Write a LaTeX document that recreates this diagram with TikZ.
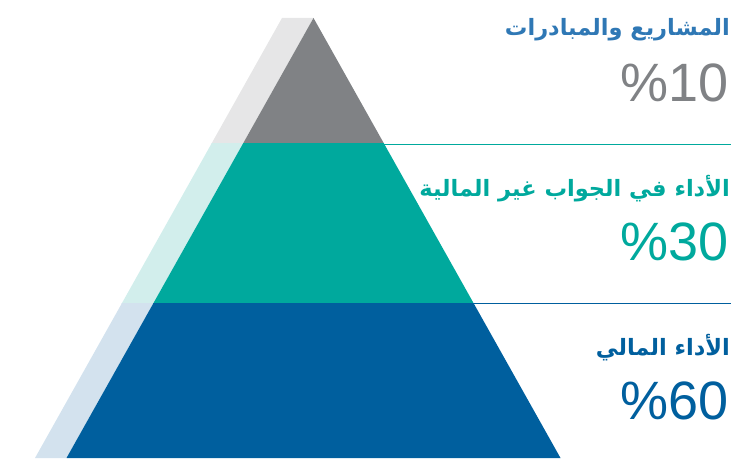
\documentclass[tikz,border=0pt]{standalone}
\usepackage{fontspec}
\setmainfont{Liberation Sans}
\newfontfamily\arabicfont[Script=Arabic]{DejaVu Sans}
\TeXXeTstate=1
\definecolor{pyrgray}{HTML}{808285}
\definecolor{pyrgraylight}{HTML}{E6E6E7}
\definecolor{pyrteal}{HTML}{00A99D}
\definecolor{pyrteallight}{HTML}{D2EEEC}
\definecolor{pyrblue}{HTML}{005F9E}
\definecolor{pyrbluelight}{HTML}{D3E2EE}
\definecolor{titleblue}{HTML}{2F78B5}

\begin{document}
\begin{tikzpicture}[x=1pt,y=1pt]
    \tikzset{title/.style = {anchor=base east, inner sep=0pt, font=\arabicfont\bfseries\fontsize{22.5}{26}\selectfont}}
    \tikzset{share/.style = {anchor=base east, inner sep=0pt, font=\fontsize{54}{60}\selectfont}}
    \tikzset{rule/.style = {line width=0.8pt}}
    \useasboundingbox (0,0) rectangle (735,458);
    % pyramid bands with their shadow
    \foreach \lo/\hi/\light/\dark in {314/458/pyrgraylight/pyrgray, 155/314/pyrteallight/pyrteal, 0/155/pyrbluelight/pyrblue} {
        \begin{scope}
            \clip (0,\lo) rectangle (735,\hi);
            \fill[\light] (282,440) -- (313.5,440) -- (66.5,0) -- (35,0) -- cycle;
            \fill[\dark] (313.5,440) -- (560.5,0) -- (66.5,0) -- cycle;
        \end{scope}
    }
    % rules
    \coordinate (tealedge) at (384.2,314);
    \coordinate (tealend) at (731,314);
    \coordinate (blueedge) at (473.4,155);
    \coordinate (blueend) at (731,155);
    \draw[rule, pyrteal] (tealedge) -- (tealend);
    \draw[rule, pyrblue] (blueedge) -- (blueend);
    % labels
    \node[title, text=titleblue] (projects) at (730,422) {\beginR المشاريع والمبادرات\endR};
    \node[share, text=pyrgray] (projectsshare) at (729,356) {\%10};
    \node[title, text=pyrteal] (nonfin) at (730,261) {\beginR الأداء في الجواب غير المالية\endR};
    \node[share, text=pyrteal] (nonfinshare) at (729,197) {\%30};
    \node[title, text=pyrblue] (fin) at (730,103) {\beginR الأداء المالي\endR};
    \node[share, text=pyrblue] (finshare) at (729,39) {\%60};
\end{tikzpicture}
\end{document}
